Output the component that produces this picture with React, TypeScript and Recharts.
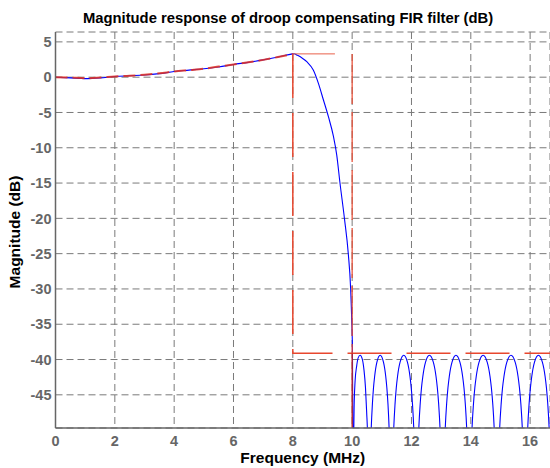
import { LineChart, Line, XAxis, YAxis, CartesianGrid, Label } from 'recharts';

const FONT = '"Liberation Sans", Arial, sans-serif';

const xTicks = [0, 2, 4, 6, 8, 10, 12, 14, 16];
const yTicks = [-45, -40, -35, -30, -25, -20, -15, -10, -5, 0, 5];

// passband (MHz / dB)
const passFreq = [0, 0.5, 1, 1.5, 2, 2.5, 3, 3.5, 4, 4.5, 5, 5.5, 6, 6.5, 7, 7.5, 8];
const passMag = [0.0, -0.1, -0.2, -0.1, 0.1, 0.2, 0.3, 0.5, 0.8, 1.0, 1.2, 1.45, 1.8, 2.1, 2.45, 2.85, 3.3];
const targetMag = [0.0, -0.05, -0.15, -0.05, 0.1, 0.2, 0.35, 0.55, 0.8, 1.0, 1.2, 1.5, 1.8, 2.1, 2.45, 2.85, 3.3];

// transition band
const transFreq = [8.05, 8.13, 8.3, 8.47, 8.69, 8.86, 9.03, 9.2, 9.37, 9.48, 9.59, 9.74, 9.87, 9.95, 9.99, 10.01, 10.025];
const transMag = [3.32, 3.15, 2.75, 2.2, 1.0, -0.85, -3.2, -5.6, -8.4, -11, -15, -20, -25, -30, -35, -38.6, -52];

// stopband ripple lobes
const lobeFreq = [
  10.045, 10.07, 10.1, 10.15, 10.2, 10.27, 10.34, 10.4, 10.45, 10.49, 10.52, 10.54,
  10.615, 10.645, 10.683, 10.72, 10.758, 10.833, 10.945, 11.058, 11.133, 11.17, 11.208, 11.245, 11.275,
  11.37, 11.404, 11.446, 11.488, 11.53, 11.614, 11.74, 11.866, 11.95, 11.992, 12.034, 12.076, 12.11,
  12.213, 12.249, 12.294, 12.338, 12.383, 12.472, 12.605, 12.739, 12.828, 12.872, 12.917, 12.961, 12.997,
  13.104, 13.14, 13.185, 13.23, 13.275, 13.365, 13.5, 13.635, 13.725, 13.77, 13.815, 13.86, 13.896,
  14.006, 14.043, 14.09, 14.136, 14.183, 14.276, 14.415, 14.555, 14.648, 14.694, 14.741, 14.787, 14.824,
  14.937, 14.975, 15.023, 15.07, 15.118, 15.213, 15.355, 15.498, 15.593, 15.64, 15.688, 15.735, 15.773,
  15.884, 15.92, 15.965, 16.01, 16.055, 16.145, 16.28, 16.415, 16.505, 16.55, 16.595, 16.64, 16.676,
];
const lobeMag = [
  -52, -46, -43, -41, -39.8, -39.4, -39.9, -41.5, -44, -47.5, -50.5, -54,
  -53.9, -49.6, -46.3, -44.0, -42.4, -40.4, -39.4, -40.4, -42.4, -44.0, -46.3, -49.6, -53.9,
  -53.9, -49.6, -46.3, -44.0, -42.4, -40.4, -39.4, -40.4, -42.4, -44.0, -46.3, -49.6, -53.9,
  -53.9, -49.6, -46.3, -44.0, -42.4, -40.4, -39.4, -40.4, -42.4, -44.0, -46.3, -49.6, -53.9,
  -53.9, -49.6, -46.3, -44.0, -42.4, -40.4, -39.4, -40.4, -42.4, -44.0, -46.3, -49.6, -53.9,
  -53.9, -49.6, -46.3, -44.0, -42.4, -40.4, -39.4, -40.4, -42.4, -44.0, -46.3, -49.6, -53.9,
  -53.9, -49.6, -46.3, -44.0, -42.4, -40.4, -39.4, -40.4, -42.4, -44.0, -46.3, -49.6, -53.9,
  -53.9, -49.6, -46.3, -44.0, -42.4, -40.4, -39.4, -40.4, -42.4, -44.0, -46.3, -49.6, -53.9,
];

// spec mask
const capFreq = [8, 9.42];
const capMag = [3.3, 3.3];
const stopEdgeFreq = [8, 8, 16.67];
const stopEdgeMag = [3.3, -39.1, -39.1];
const cutFreq = [10, 10];
const cutMag = [3.3, -39.1];
const cutLowMag = [-39.1, -49.7];

const zip = (xs: number[], ys: number[]) => xs.map((x, i) => ({ x, y: ys[i] }));

const response = [
  ...zip(passFreq, passMag),
  ...zip(transFreq, transMag),
  ...zip(lobeFreq, lobeMag),
];
const target = zip(passFreq, targetMag);
const cap = zip(capFreq, capMag);
const stopEdge = zip(stopEdgeFreq, stopEdgeMag);
const cut = zip(cutFreq, cutMag);
const cutLow = zip(cutFreq, cutLowMag);

const tickStyle = { fill: '#666', fontSize: 14.5, fontWeight: 700, fontFamily: FONT };
const labelStyle = { fill: '#000', fontSize: 15.5, fontWeight: 700, fontFamily: FONT };

export default function App() {
  return (
    <div style={{ position: 'absolute', left: 0, top: 0, width: 550, height: 468, background: '#fff' }}>
      <svg width={550} height={30} style={{ position: 'absolute', left: 0, top: 0 }}>
        <text x={288} y={23} textAnchor="middle" fontSize={14.8} fontWeight={700} fontFamily={FONT} fill="#000">
          Magnitude response of droop compensating FIR filter (dB)
        </text>
      </svg>
      <LineChart width={550} height={468} margin={{ top: 32, right: 0, bottom: 0, left: 0 }}
        style={{ position: 'absolute', left: 0, top: 0 }}>
        <CartesianGrid stroke="#7a7a7a" strokeDasharray="7 4" />
        <XAxis
          dataKey="x"
          type="number"
          domain={[0, 16.67]}
          ticks={xTicks}
          allowDataOverflow
          height={40}
          tickLine={false}
          tickSize={6}
          tickMargin={1.5}
          tick={tickStyle}
          axisLine={{ stroke: '#666', strokeWidth: 1.5 }}
        >
          <Label
            position="insideBottom"
            content={({ viewBox }: any) => (
              <text x={viewBox.x + viewBox.width / 2} y={viewBox.y + viewBox.height - 5} textAnchor="middle" style={labelStyle}>
                Frequency (MHz)
              </text>
            )}
          />
        </XAxis>
        <XAxis xAxisId="top" orientation="top" type="number" domain={[0, 16.67]} height={0}
          tick={false} tickLine={false} axisLine={{ stroke: '#666', strokeWidth: 1.5 }} />
        <YAxis
          type="number"
          domain={[-49.7, 6.4]}
          ticks={yTicks}
          allowDataOverflow
          width={55.5}
          tickLine={false}
          tickSize={4}
          tickMargin={0}
          tick={tickStyle}
          axisLine={{ stroke: '#666', strokeWidth: 1.5 }}
        >
          <Label
            position="insideLeft"
            content={({ viewBox }: any) => {
              const cx = 20;
              const cy = viewBox.y + viewBox.height / 2 + 2;
              return (
                <text x={cx} y={cy} transform={`rotate(-90, ${cx}, ${cy})`} textAnchor="middle" style={labelStyle}>
                  Magnitude (dB)
                </text>
              );
            }}
          />
        </YAxis>
        <Line data={response} dataKey="y" type="monotone" stroke="#0000ff" strokeWidth={1.1}
          dot={false} activeDot={false} isAnimationActive={false} />
        <Line data={target} dataKey="y" type="monotone" stroke="#e0301e" strokeWidth={2} strokeOpacity={0.85}
          strokeDasharray="12 5" dot={false} activeDot={false} isAnimationActive={false} />
        <Line data={cap} dataKey="y" type="linear" stroke="#e8604a" strokeWidth={1}
          dot={false} activeDot={false} isAnimationActive={false} />
        <Line data={stopEdge} dataKey="y" type="linear" stroke="#e8472e" strokeWidth={1.5}
          strokeDasharray="44 15" dot={false} activeDot={false} isAnimationActive={false} />
        <Line data={cut} dataKey="y" type="linear" stroke="#e8472e" strokeWidth={1.2}
          strokeDasharray="50 8" dot={false} activeDot={false} isAnimationActive={false} />
        <Line data={cutLow} dataKey="y" type="linear" stroke="#c8281a" strokeWidth={1.3}
          dot={false} activeDot={false} isAnimationActive={false} />
      </LineChart>
    </div>
  );
}
